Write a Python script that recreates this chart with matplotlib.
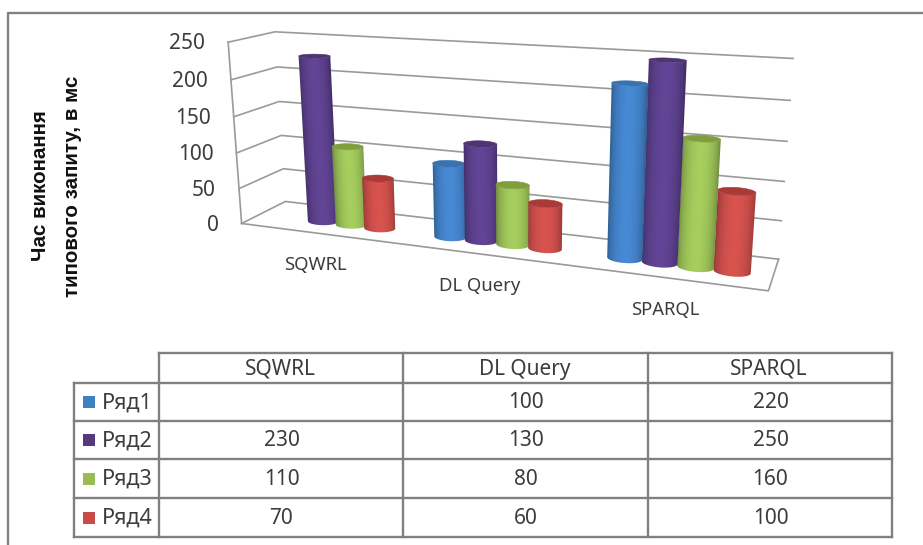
import numpy as np
import matplotlib
matplotlib.use("Agg")
import matplotlib.pyplot as plt
from matplotlib.patches import Polygon, Rectangle
from matplotlib.colors import to_rgb
from matplotlib.transforms import Affine2D

plt.rcParams['font.family'] = ['Noto Sans', 'DejaVu Sans']

categories = ["SQWRL", "DL Query", "SPARQL"]
series_names = ["Ряд1", "Ряд2", "Ряд3", "Ряд4"]
ryad1 = [None, 100, 220]
ryad2 = [230, 130, 250]
ryad3 = [110, 80, 160]
ryad4 = [70, 60, 100]
y_ticks = [0, 50, 100, 150, 200, 250]
y_max = 250
series_values = [ryad1, ryad2, ryad3, ryad4]
series_colors = ["#4484cc", "#5e4290", "#a0c65a", "#d0504c"]
swatch_colors = ["#3f80c4", "#54397f", "#9bbb59", "#c94b48"]
top_colors = ["#3a72b0", "#4c3572", "#7f9e3c", "#a93a38"]
grid_color = "#9a9a9a"
text_color = "#3c3c3c"

# box corners of the 3d chart in pixels: (x along categories, depth, value) -> picture
box_3d = [(0, 0, 0), (1, 0, 0), (1, 1, 0), (0, 1, 0), (0, 0, 1), (1, 0, 1), (1, 1, 1), (0, 1, 1)]
box_px = [(242, 224), (768, 291), (779, 259), (285, 201), (228, 42), (784, 73), (793, 59), (275, 32)]


def fit_camera(src, dst):
    A, b = [], []
    for (x, y, z), (u, v) in zip(src, dst):
        A.append([x, y, z, 1, 0, 0, 0, 0, -u * x, -u * y, -u * z])
        A.append([0, 0, 0, 0, x, y, z, 1, -v * x, -v * y, -v * z])
        b += [u, v]
    p = np.linalg.lstsq(np.array(A, float), np.array(b, float), rcond=None)[0]
    return np.append(p, 1).reshape(3, 4)


cam = fit_camera(box_3d, box_px)


def project(t, d, val):
    q = cam @ np.array([t, d, val / y_max, np.ones_like(t)], float)
    return q[0] / q[2], q[1] / q[2]


def cylinder(ax, t, d, val, rt, rd, color, top, z):
    # side = sheared gradient image clipped to the outline of the bar
    th = np.linspace(np.pi - 1.2, 2 * np.pi + 1.2, 120)
    xb, yb = project(t + rt * np.cos(th), d + rd * np.sin(th), 0 * th)
    xt, yt = project(t + rt * np.cos(th), d + rd * np.sin(th), val + 0 * th)
    # outline ends where the edge of the foot is furthest from the axis of the bar
    ax_dir = np.array([xt.mean() - xb.mean(), yt.mean() - yb.mean()])
    side = xb * -ax_dir[1] + yb * ax_dir[0]
    il, ir = side.argmax(), side.argmin()
    if il > ir:
        il, ir = ir, il
    xb, yb, xt, yt = xb[il:ir + 1], yb[il:ir + 1], xt[il:ir + 1], yt[il:ir + 1]
    p0 = np.array([xb[0], yb[0]])
    p1 = np.array([xb[-1], yb[-1]])
    p3 = np.array([xt[0], yt[0]])
    u = np.linspace(-1, 2, 192)
    shade = 0.72 + 0.32 * np.sin(np.pi * np.clip(u, 0, 1)) ** 0.6
    img = np.clip(np.outer(shade, to_rgb(color)), 0, 1)[None, :, :]
    m = np.eye(3)
    m[:2, :2] = np.array([p1 - p0, p3 - p0]).T
    m[:2, 2] = p0
    # image is much larger than the bar, only the clipped part shows
    im = ax.imshow(img, extent=(-1, 2, -1, 2), aspect="auto", interpolation="bilinear",
                   transform=Affine2D(m) + ax.transData, zorder=z)
    clip = Polygon(np.r_[np.c_[xb, yb], np.c_[xt, yt][::-1]], transform=ax.transData)
    im.set_clip_path(clip)
    th = np.linspace(0, 2 * np.pi, 81)
    xt, yt = project(t + rt * np.cos(th), d + rd * np.sin(th), val + 0 * th)
    ax.add_patch(Polygon(np.c_[xt, yt], fc=top, ec=top, lw=0.4, zorder=z + 0.5))


fig = plt.figure(figsize=(9.23, 5.45), dpi=100)
ax = fig.add_axes([0, 0, 1, 1])
ax.axis("off")

# outer frame
ax.plot([8, 8, 923], [545, 13, 13], color="#808080", lw=1.7)

# walls and floor
for v in y_ticks:
    xs, ys = project(np.array([0, 0, 1.0]), np.array([0, 1, 1.0]), np.array([v, v, v], float))
    ax.plot(xs, ys, color=grid_color, lw=1.2, zorder=1)
    tx, ty = project(np.array(0.0), np.array(0.0), np.array(float(v)))
    ax.text(tx - 23, ty + 1.5, str(v), ha="right", va="center", fontsize=15, color=text_color)
xs, ys = project(np.array([0, 0.0]), np.array([0, 0.0]), np.array([0, y_max], float))
ax.plot(xs, ys, color=grid_color, lw=1.2, zorder=1)
xs, ys = project(np.array([0, 1, 1.0]), np.array([0, 0, 1.0]), np.zeros(3))
ax.plot(xs, ys, color=grid_color, lw=1.2, zorder=1)

ax.set_xlim(0, 923)
ax.set_ylim(545, 0)
ax.set_autoscale_on(False)

# bars
d_row = 0.43
dt = 0.062
for i, cat in enumerate(categories):
    tc = (i + 0.5) / 3
    for s in range(4):
        val = series_values[s][i]
        if val is None:
            continue
        z = 3 + s if i < 2 else 10 - s
        cylinder(ax, tc + 0.006 + dt * (s - 1.5), d_row, val, dt * 0.5, 0.15, series_colors[s], top_colors[s], z)
    lx, ly = project(np.array(tc), np.array(0.0), np.array(0.0))
    ax.text(lx - 1, ly + 32, cat, ha="center", va="center", fontsize=13.3, color=text_color)

# axis title
ax.text(41, 186, "Час виконання", rotation=90, ha="center", va="center", family="Liberation Sans",
        fontsize=14.8, fontweight="bold", color="#111111")
ax.text(72, 186, "типового запиту, в мс", rotation=90, ha="center", va="center", family="Liberation Sans",
        fontsize=14.8, fontweight="bold", color="#111111")

# data table
col_x = [74, 159, 403, 648, 892]
row_y = [353, 383, 421, 459, 498, 537]
tc = "#808080"
ax.plot([col_x[1], col_x[4]], [row_y[0], row_y[0]], color=tc, lw=1.7)
for yy in row_y[1:]:
    ax.plot([col_x[0], col_x[4]], [yy, yy], color=tc, lw=1.7)
ax.plot([col_x[0], col_x[0]], [row_y[1], row_y[5]], color=tc, lw=1.7)
for xx in col_x[1:]:
    ax.plot([xx, xx], [row_y[0], row_y[5]], color=tc, lw=1.7)
for j, cat in enumerate(categories):
    ax.text((col_x[j + 1] + col_x[j + 2]) / 2 - 1, (row_y[0] + row_y[1]) / 2 + 1.5, cat,
            ha="center", va="center", fontsize=15, color=text_color)
for s, name in enumerate(series_names):
    yc = (row_y[s + 1] + row_y[s + 2]) / 2
    ax.add_patch(Rectangle((83, yc - 6), 12, 12, fc=swatch_colors[s], ec="none"))
    ax.text(102, yc + 1, name, ha="left", va="center", fontsize=15.5, color=text_color)
    for j in range(3):
        val = series_values[s][j]
        if val is not None:
            ax.text((col_x[j + 1] + col_x[j + 2]) / 2 + 0.5, yc + 1, str(val),
                    ha="center", va="center", fontsize=15, color=text_color)

fig.savefig("out.png", dpi=100)
